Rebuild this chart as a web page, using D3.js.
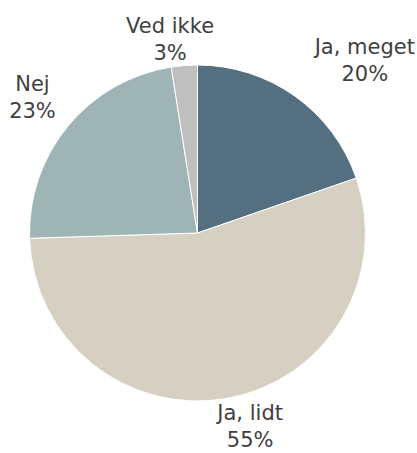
<!DOCTYPE html>
<html>
<head>
<meta charset="utf-8">
<script src="https://cdn.jsdelivr.net/npm/d3@7"></script>
<style>
  body { margin: 0; background: #fff; }
  text { font-family: "DejaVu Sans", sans-serif; fill: #404040; }
</style>
</head>
<body>
<svg id="chart" width="417" height="453"></svg>
<script>
// Data (slice sizes, labels show the rounded percent)
var categories = ["Ja, meget", "Ja, lidt", "Nej", "Ved ikke"];
var shares = [19.7, 54.8, 23.0, 2.5];
var colors = ["#536f80", "#d6d0c3", "#9fb5b5", "#bfbfbf"];

// Label layout: angle nudge (degrees) off the slice middle, distance from centre
var labelNudge = [7.6, -5.3, 1.2, -3.3];
var labelRadius = [245, 194, 218, 202];

var cx = 197.5,
  cy = 233,
  radius = 168;

var svg = d3.select("#chart");
var g = svg.append("g").attr("transform", "translate(" + cx + "," + cy + ")");

var rows = categories.map(function (c, i) {
  return { name: c, value: shares[i], color: colors[i], i: i };
});

var pie = d3.pie().sort(null).value((d) => d.value);
var arc = d3.arc().innerRadius(0).outerRadius(radius);

var slices = pie(rows);

g.selectAll("path")
  .data(slices)
  .enter()
  .append("path")
  .attr("d", arc)
  .attr("fill", (d) => d.data.color)
  .attr("stroke", "#fff")
  .attr("stroke-width", 1);

// Labels
var labels = g
  .selectAll("text")
  .data(slices)
  .enter()
  .append("text")
  .attr("text-anchor", "middle")
  .style("font-size", "21px")
  .attr("transform", function (d) {
    var a = (d.startAngle + d.endAngle) / 2 + (labelNudge[d.data.i] * Math.PI) / 180;
    var r = labelRadius[d.data.i];
    return "translate(" + r * Math.sin(a) + "," + -r * Math.cos(a) + ")";
  });

labels
  .append("tspan")
  .attr("x", 0)
  .attr("y", 0)
  .text((d) => d.data.name);

labels
  .append("tspan")
  .attr("x", 0)
  .attr("y", 27)
  .text((d) => Math.round(d.data.value) + "%");
</script>
</body>
</html>
